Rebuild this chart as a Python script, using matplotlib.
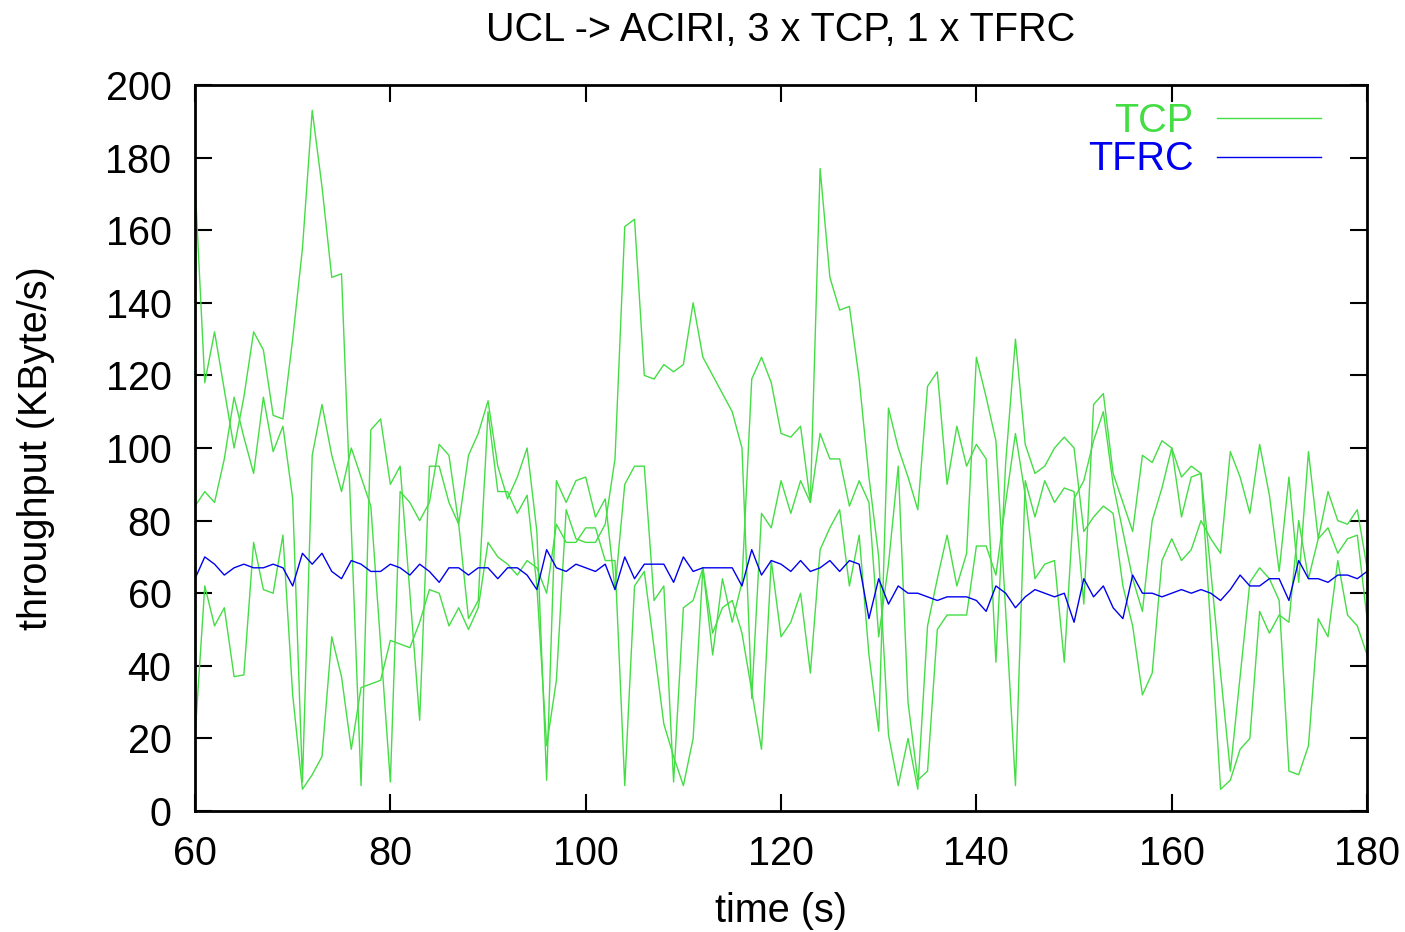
import numpy as np
import matplotlib
matplotlib.use("Agg")
import matplotlib.pyplot as plt

# time axis, one sample per second
t = np.arange(60, 181)

# three TCP flows (KByte/s)
tcp_a = [173, 118, 132, 116, 100, 114, 132, 127, 109, 108, 130, 155, 193, 172, 147, 148, 78, 7, 105, 108,
         90, 95, 60, 25, 95, 95, 85, 79, 53, 58, 110, 88, 88, 82, 87, 62, 18, 36, 83, 75,
         74, 74, 79, 97, 161, 163, 120, 119, 123, 121, 123, 140, 125, 120, 115, 110, 100, 31, 82, 78,
         91, 82, 91, 85, 104, 97, 97, 84, 91, 85, 48, 68, 95, 30, 8.5, 11, 50, 54, 54, 54,
         73, 73, 65, 85, 104, 87, 64, 68, 69, 41, 86, 91, 102, 110, 90, 77, 64, 55, 80, 89,
         100, 81, 92, 93, 66, 38, 11, 37, 63, 67, 64, 58, 11, 10, 18, 53, 48, 69, 54, 51, 43]
tcp_b = [84, 88, 85, 97, 114, 103, 93, 114, 99, 106, 86, 8, 98, 112, 98, 88, 100, 92, 84, 46,
         8, 88, 85, 80, 85, 101, 98, 79, 98, 104, 113, 95, 86, 92, 100, 77, 8.5, 91, 85, 91,
         92, 81, 86, 61, 90, 95, 95, 58, 62, 8, 56, 58, 67, 43, 64, 52, 63, 119, 125, 118,
         104, 103, 106, 85, 177, 147, 138, 139, 119, 92, 70, 21, 7, 20, 6, 51, 64, 76, 62, 71,
         125, 114, 102, 55, 7, 91, 81, 91, 85, 89, 88, 57, 112, 115, 93, 85, 77, 98, 96, 102,
         100, 92, 95, 93, 50, 6, 8.5, 17, 20, 55, 49, 54, 52, 80, 64, 75, 78, 71, 75, 76, 53]
tcp_c = [20.5, 62, 51, 56, 37, 37.5, 74, 61, 60, 76, 32, 6, 10, 15, 48, 37, 17, 34, 35, 36,
         47, 46, 45, 52, 61, 60, 51, 56, 50, 56, 74, 70, 68, 65, 69, 67, 60, 79, 74, 74,
         78, 78, 69, 69, 7, 62, 66, 45, 24, 15, 7, 20, 67, 49, 56, 58, 49, 33, 17, 69,
         48, 52, 60, 38, 72, 78, 83, 62, 76, 43, 22, 111, 100, 92, 83, 117, 121, 90, 106, 95,
         101, 97, 41, 96, 130, 101, 93, 95, 100, 103, 100, 77, 81, 84, 82, 62, 51, 32, 38, 69,
         75, 69, 72, 80, 75, 71, 99, 92, 82, 101, 87, 66, 92, 63, 99, 75, 88, 80, 79, 83, 67]

# the TFRC flow
tfrc = [64, 70, 68, 65, 67, 68, 67, 67, 68, 67, 62, 71, 68, 71, 66, 64, 69, 68, 66, 66, 68,
        67, 65, 68, 66, 63, 67, 67, 65, 67, 67, 64, 67, 67, 65, 61, 72, 67, 66, 68, 67,
        66, 68, 61, 70, 64, 68, 68, 68, 63, 70, 66, 67, 67, 67, 67, 62, 72, 65, 69, 68,
        66, 69, 66, 67, 69, 66, 69, 68, 53, 64, 57, 62, 60, 60, 59, 58, 59, 59, 59, 58,
        55, 62, 60, 56, 59, 61, 60, 59, 60, 52, 64, 59, 62, 56, 53, 65, 60, 60, 59, 60,
        61, 60, 61, 60, 58, 61, 65, 62, 62, 64, 64, 58, 69, 64, 64, 63, 65, 65, 64, 66]

green = "#44dd44"
blue = "#0000ee"
fs = 28.5

plt.rcParams["font.family"] = ["Liberation Sans", "DejaVu Sans"]

fig = plt.figure(figsize=(14.05, 9.32), dpi=100)
ax = fig.add_axes([0.1388, 0.1298, 0.9730 - 0.1388, 0.9088 - 0.1298])

ax.plot(t, tcp_a, color=green, lw=1.0, label="TCP")
ax.plot(t, tcp_b, color=green, lw=1.0)
ax.plot(t, tcp_c, color=green, lw=1.0)
ax.plot(t, tfrc, color=blue, lw=1.0, label="TFRC")

ax.set_xlim(60, 180)
ax.set_ylim(0, 200)
ax.set_xticks(range(60, 181, 20))
ax.set_yticks(range(0, 201, 20))
ax.tick_params(direction="in", length=12, width=1.5, top=True, right=True,
               labelsize=fs, pad=17)
for s in ax.spines.values():
    s.set_linewidth(2)

ax.set_xlabel("time (s)", fontsize=fs, labelpad=14)
ax.set_ylabel("throughput (KByte/s)", fontsize=fs, labelpad=36)
ax.set_title("UCL -> ACIRI, 3 x TCP, 1 x TFRC", fontsize=fs, pad=32)

# gnuplot style key: text first, then the line sample
ax.legend(loc="upper right", bbox_to_anchor=(0.9676, 0.988), markerfirst=False,
          frameon=False, fontsize=fs, handlelength=2.63, handletextpad=0.6,
          labelspacing=0.02, borderaxespad=0.0, borderpad=0.2,
          labelcolor="linecolor")

fig.savefig("out.png", dpi=100)
